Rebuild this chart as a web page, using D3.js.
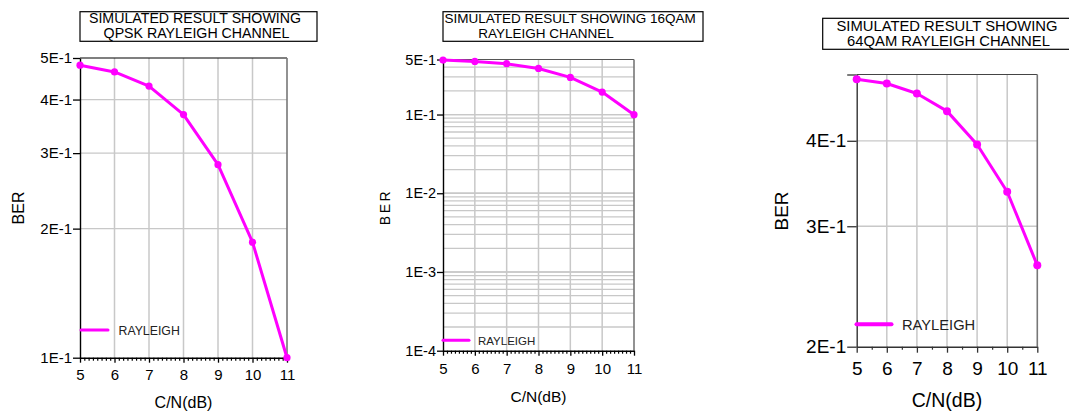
<!DOCTYPE html>
<html><head><meta charset="utf-8">
<script src="https://cdn.jsdelivr.net/npm/d3@7"></script>
<style>
html,body{margin:0;padding:0;background:#fff;}
svg{display:block;font-family:"Liberation Sans",Arial,sans-serif;}
</style></head>
<body><svg id="c" width="1069" height="412"></svg>
<script>
// ---- data ----
const snr = [5, 6, 7, 8, 9, 10, 11];
const xTickLabels = ["5", "6", "7", "8", "9", "10", "11"];
const berQPSK = [0.481, 0.464, 0.430, 0.369, 0.282, 0.186, 0.100];
const ber16QAM = [0.492, 0.473, 0.442, 0.385, 0.296, 0.193, 0.0995];
const ber64QAM = [0.492, 0.485, 0.469, 0.442, 0.395, 0.337, 0.263];
const yTicksQPSK = [0.1, 0.2, 0.3, 0.4, 0.5];
const yLabelsQPSK = ["1E-1", "2E-1", "3E-1", "4E-1", "5E-1"];
const yTicks16QAM = [1e-4, 1e-3, 1e-2, 1e-1, 0.5];
const yLabels16QAM = ["1E-4", "1E-3", "1E-2", "1E-1", "5E-1"];
const yTicks64QAM = [0.2, 0.3, 0.4, 0.5];
const yLabels64QAM = ["2E-1", "3E-1", "4E-1", ""];
const titlesQPSK = ["SIMULATED RESULT SHOWING", "QPSK RAYLEIGH CHANNEL"];
const titles16QAM = ["SIMULATED RESULT SHOWING 16QAM", "RAYLEIGH CHANNEL"];
const titles64QAM = ["SIMULATED RESULT SHOWING", "64QAM RAYLEIGH CHANNEL"];
const seriesName = "RAYLEIGH";
const xTitle = "C/N(dB)";
const yTitle = "BER";

const svg = d3.select("#c");
const MAG = "#ff00ff";

function minorGrid(lo, hi) {
  const out = [];
  for (let e = Math.floor(Math.log10(lo)); e <= Math.ceil(Math.log10(hi)); e++) {
    for (let m = 1; m <= 9; m++) {
      const v = m * Math.pow(10, e);
      if (v > lo * 1.0001 && v < hi * 0.9999) out.push(v);
    }
  }
  return out;
}

function panel(cfg) {
  const g = svg.append("g");
  const x = d3.scaleLinear().domain([5, 11]).range([cfg.x0, cfg.x1]);
  const y = d3.scaleLog().domain(cfg.yDomain).range([cfg.yb, cfg.yt]);

  // horizontal grid
  g.append("g").selectAll("line").data(cfg.hGrid).join("line")
    .attr("x1", cfg.x0).attr("x2", cfg.x1)
    .attr("y1", d => y(d)).attr("y2", d => y(d))
    .attr("stroke", "#c8c8c8").attr("stroke-width", 1.3);
  // vertical grid
  g.append("g").selectAll("line").data(snr.slice(1, -1)).join("line")
    .attr("x1", d => x(d)).attr("x2", d => x(d))
    .attr("y1", cfg.yt).attr("y2", cfg.yb)
    .attr("stroke", "#c8c8c8").attr("stroke-width", 1.5);
  // frame top & right
  g.append("line").attr("x1", cfg.x0).attr("x2", cfg.x1).attr("y1", cfg.yt).attr("y2", cfg.yt)
    .attr("stroke", cfg.topColor).attr("stroke-width", 1.2);
  g.append("line").attr("x1", cfg.x1).attr("x2", cfg.x1).attr("y1", cfg.yt).attr("y2", cfg.yb)
    .attr("stroke", "#777").attr("stroke-width", 1.6);

  // minor x ticks
  const minorX = [];
  for (let v = 5; v < 11; v += cfg.minorStep) {
    const r = Math.round(v * 1000) / 1000;
    if (Math.abs(r - Math.round(r)) > 1e-6) minorX.push(r);
  }
  g.append("g").attr("transform", `translate(0,${cfg.yb})`)
    .call(d3.axisBottom(x).tickValues(minorX).tickSize(cfg.minorLen).tickFormat(""))
    .call(a => a.select(".domain").remove())
    .call(a => a.selectAll("line").attr("stroke", cfg.axisColor).attr("stroke-width", 1.2));

  // x axis
  const xa = g.append("g").attr("transform", `translate(0,${cfg.yb})`)
    .call(d3.axisBottom(x).tickValues(snr).tickFormat((d, i) => xTickLabels[i])
      .tickSize(cfg.majorLen).tickSizeOuter(0));
  xa.select(".domain").attr("stroke", cfg.axisColor).attr("stroke-width", 1.4);
  xa.selectAll("line").attr("stroke", cfg.axisColor).attr("stroke-width", 1.3);
  xa.selectAll("text").attr("dy", null).attr("y", cfg.xLabelOff)
    .attr("fill", "#000").style("font-size", cfg.tickFont + "px")
    .style("font-family", '"Liberation Sans",Arial,sans-serif');

  // y axis
  const ya = g.append("g").attr("transform", `translate(${cfg.x0},0)`)
    .call(d3.axisLeft(y).tickValues(cfg.yTicks).tickFormat((d, i) => cfg.yLabels[i])
      .tickSize(cfg.yTickLen).tickSizeOuter(0).tickPadding(1));
  ya.select(".domain").attr("stroke", cfg.axisColor).attr("stroke-width", 1.4);
  ya.selectAll("line").attr("stroke", cfg.axisColor).attr("stroke-width", 1.3);
  ya.selectAll("text").attr("fill", "#000").style("font-size", cfg.yTickFont + "px")
    .style("font-family", '"Liberation Sans",Arial,sans-serif');

  // axis titles
  g.append("text").attr("x", (cfg.x0 + cfg.x1) / 2).attr("y", cfg.xTitleY)
    .attr("text-anchor", "middle").style("font-size", cfg.xTitleFont + "px").text(xTitle);
  g.append("text").attr("transform", `translate(${cfg.yTitleX},${cfg.yTitleY}) rotate(-90)`)
    .attr("text-anchor", "middle").style("font-size", cfg.yTitleFont + "px")
    .style("letter-spacing", cfg.yTitleSpacing + "px").text(yTitle);

  // title box
  g.append("rect").attr("x", cfg.box[0]).attr("y", cfg.box[1]).attr("width", cfg.box[2]).attr("height", cfg.box[3])
    .attr("fill", "none").attr("stroke", "#000").attr("stroke-width", 1.2);
  cfg.titles.forEach((t, i) => {
    const tt = g.append("text").attr("y", cfg.titleY[i]).style("font-size", cfg.titleFont + "px").text(t);
    if (cfg.titleAnchor[i] === "start") tt.attr("x", cfg.titleX[i]).attr("text-anchor", "start");
    else tt.attr("x", cfg.titleX[i]).attr("text-anchor", "middle");
  });

  // series
  const pts = snr.map((s, i) => [s, cfg.values[i]]);
  g.append("path").datum(pts)
    .attr("d", d3.line().x(d => x(d[0])).y(d => y(d[1])))
    .attr("fill", "none").attr("stroke", MAG).attr("stroke-width", cfg.lineW)
    .attr("stroke-linejoin", "round");
  g.append("g").selectAll("circle").data(pts).join("circle")
    .attr("cx", d => x(d[0])).attr("cy", d => y(d[1])).attr("r", cfg.markR).attr("fill", MAG);

  // legend
  g.append("line").attr("x1", cfg.leg[0]).attr("x2", cfg.leg[1]).attr("y1", cfg.leg[2]).attr("y2", cfg.leg[2])
    .attr("stroke", MAG).attr("stroke-width", cfg.legW).attr("stroke-linecap", "round");
  g.append("text").attr("x", cfg.leg[3]).attr("y", cfg.leg[4])
    .style("font-size", cfg.legFont + "px").attr("fill", "#222").text(seriesName);
}

panel({
  x0: 80, x1: 287, yb: 357.7, yt: 58, yDomain: [0.1, 0.5],
  values: berQPSK, yTicks: yTicksQPSK, yLabels: yLabelsQPSK,
  hGrid: [0.2, 0.3, 0.4],
  topColor: "#000", axisColor: "#000",
  minorStep: 0.125, minorLen: 3, majorLen: 5, yTickLen: 7,
  xLabelOff: 22, tickFont: 15, yTickFont: 15,
  xTitleY: 408, xTitleFont: 16,
  yTitleX: 24, yTitleY: 208, yTitleFont: 16, yTitleSpacing: 0,
  box: [80, 11.7, 237, 29.6], titles: titlesQPSK, titleFont: 14.2,
  titleX: [195, 196.5], titleY: [23.3, 37.7], titleAnchor: ["middle", "middle"],
  lineW: 3, markR: 3.6,
  leg: [81, 108, 330, 118.5, 334.5], legW: 3, legFont: 12.3
});

panel({
  x0: 443, x1: 634, yb: 350.7, yt: 59.5, yDomain: [1e-4, 0.5],
  values: ber16QAM, yTicks: yTicks16QAM, yLabels: yLabels16QAM,
  hGrid: minorGrid(1e-4, 0.5).concat([1e-3, 1e-2, 1e-1]),
  topColor: "#555", axisColor: "#000",
  minorStep: 0.125, minorLen: 3, majorLen: 5, yTickLen: 6,
  xLabelOff: 23.5, tickFont: 15, yTickFont: 14.5,
  xTitleY: 401.5, xTitleFont: 15.5,
  yTitleX: 390, yTitleY: 207, yTitleFont: 14, yTitleSpacing: 2.5,
  box: [443, 11.7, 260, 29.6], titles: titles16QAM, titleFont: 13.5,
  titleX: [444.5, 546], titleY: [23.3, 37.7], titleAnchor: ["start", "middle"],
  lineW: 3, markR: 3.6,
  leg: [443, 469, 340.3, 478, 345], legW: 3, legFont: 11.5
});

panel({
  x0: 856.7, x1: 1037.3, yb: 346.7, yt: 74.5, yDomain: [0.2, 0.5],
  values: ber64QAM, yTicks: yTicks64QAM, yLabels: yLabels64QAM,
  hGrid: [0.3, 0.4],
  topColor: "#444", axisColor: "#333",
  minorStep: 0.5, minorLen: 3, majorLen: 6, yTickLen: 9.5,
  xLabelOff: 28.5, tickFont: 19, yTickFont: 19,
  xTitleY: 406.5, xTitleFont: 19.5,
  yTitleX: 788, yTitleY: 211, yTitleFont: 19, yTitleSpacing: 0,
  box: [822.7, 18.3, 252, 31], titles: titles64QAM, titleFont: 14.8,
  titleX: [947, 948.5], titleY: [31, 45.8], titleAnchor: ["middle", "middle"],
  lineW: 3, markR: 4,
  leg: [856.5, 891.5, 324.3, 902, 330], legW: 4, legFont: 14.7
});
</script>
</body></html>
